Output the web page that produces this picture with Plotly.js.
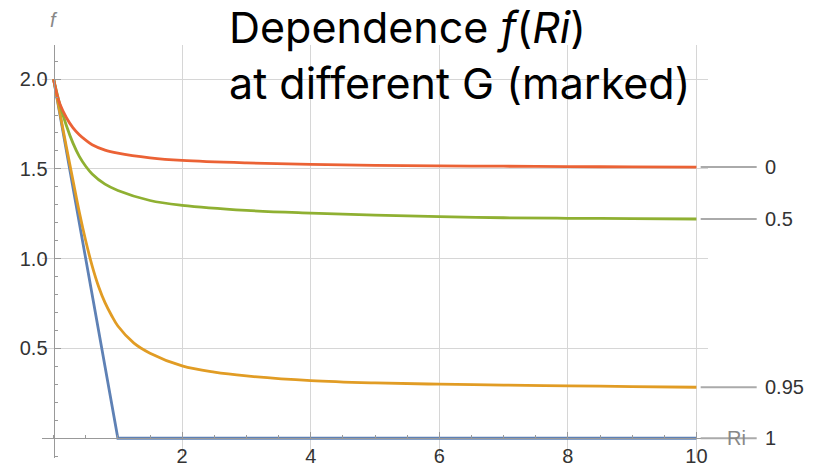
<!DOCTYPE html>
<html>
<head>
<meta charset="utf-8">
<script src="https://cdn.plot.ly/plotly-3.0.1.min.js"></script>
<style>html,body{margin:0;padding:0;background:#fff;}#chart{width:813px;height:468px;}</style>
</head>
<body>
<div id="chart"></div>
<script>
// G = 0 (red)
var ri_G0 = [0, 0.05, 0.1, 0.2, 0.3, 0.4, 0.5, 0.6, 0.8, 1.0, 1.5, 2, 3, 4, 5, 6, 7, 8, 9, 10];
var f_G0  = [2.0, 1.92, 1.86, 1.785, 1.73, 1.69, 1.66, 1.635, 1.605, 1.588, 1.562, 1.547, 1.533, 1.525, 1.52, 1.517, 1.515, 1.513, 1.511, 1.51];
// G = 0.5 (green)
var ri_G05 = [0, 0.05, 0.1, 0.2, 0.3, 0.4, 0.5, 0.6, 0.8, 1.0, 1.5, 2, 3, 4, 5, 6, 7, 8, 9, 10];
var f_G05  = [2.0, 1.925, 1.855, 1.74, 1.645, 1.57, 1.515, 1.472, 1.415, 1.38, 1.324, 1.297, 1.269, 1.254, 1.243, 1.234, 1.228, 1.225, 1.223, 1.221];
// G = 0.95 (orange)
var ri_G095 = [0, 0.1, 0.2, 0.3, 0.4, 0.5, 0.6, 0.7, 0.8, 0.9, 1.0, 1.25, 1.5, 2, 2.5, 3, 4, 5, 6, 7, 8, 9, 10];
var f_G095  = [2.0, 1.81, 1.62, 1.44, 1.26, 1.10, 0.96, 0.845, 0.755, 0.685, 0.625, 0.53, 0.474, 0.403, 0.368, 0.347, 0.321, 0.308, 0.301, 0.296, 0.292, 0.288, 0.284];
// G = 1 (blue)
var ri_G1 = [0, 1, 10];
var f_G1  = [2.0, 0, 0];

var G_labels = ['1', '0.95', '0.5', '0'];
var xTicks = [2, 4, 6, 8, 10];
var xTickText = ['2', '4', '6', '8', '10'];
var yTicks = [0.5, 1.0, 1.5, 2.0];
var yTickText = ['0.5', '1.0', '1.5', '2.0'];

var series = [
  {x: ri_G1, y: f_G1, color: '#5E81B5', shape: 'linear'},
  {x: ri_G095, y: f_G095, color: '#E19C24', shape: 'spline'},
  {x: ri_G05, y: f_G05, color: '#8FB032', shape: 'spline'},
  {x: ri_G0, y: f_G0, color: '#EB6235', shape: 'spline'}
];

var traces = series.map(function(s){
  return {x: s.x, y: s.y, type: 'scatter', mode: 'lines',
    line: {color: s.color, width: 2.8, shape: s.shape, smoothing: 1},
    hoverinfo: 'skip', showlegend: false};
});

var xr = [-0.18, 10.18], yr = [-0.11, 2.19];
var tickFont = {family: 'Liberation Sans, Arial, sans-serif', size: 20, color: '#333'};

var shapes = [], annotations = [];
series.forEach(function(s, i){
  var yEnd = s.y[s.y.length - 1];
  shapes.push({type: 'line', xref: 'paper', yref: 'y', x0: 0.989, x1: 1.0731, y0: yEnd, y1: yEnd,
    line: {color: '#aaa', width: 2}});
  annotations.push({xref: 'paper', yref: 'y', x: 1.0826, y: yEnd, xanchor: 'left', yanchor: 'middle',
    text: G_labels[i], showarrow: false, font: tickFont});
});
annotations.push({xref: 'paper', yref: 'y', x: 1.0435, y: 0, xanchor: 'center', yanchor: 'middle',
  text: 'Ri', showarrow: false, font: {family: 'Liberation Sans, Arial, sans-serif', size: 20, color: '#888'}});
annotations.push({xref: 'paper', yref: 'paper', x: 0.0173, y: 1.06, xanchor: 'center', yanchor: 'middle',
  text: '<i>f</i>', showarrow: false, font: {family: 'Liberation Sans, Arial, sans-serif', size: 20, color: '#888'}});
annotations.push({xref: 'paper', yref: 'paper', x: 0.2793, y: 1.109, xanchor: 'left', yanchor: 'top', align: 'left',
  text: 'Dependence <i>f</i>(<i>Ri</i>)<br>at different G (marked)', showarrow: false, borderpad: 0,
  font: {family: 'Inter, sans-serif', size: 43, color: '#000'}});

var layout = {
  width: 813, height: 468,
  margin: {l: 42, r: 105, t: 45, b: 10, pad: 0},
  paper_bgcolor: '#fff', plot_bgcolor: '#fff',
  showlegend: false,
  xaxis: {range: xr, anchor: 'free', position: (0 - yr[0]) / (yr[1] - yr[0]),
    showline: true, linecolor: '#999', linewidth: 1, zeroline: false,
    tickmode: 'array', tickvals: xTicks, ticktext: xTickText,
    ticks: 'inside', ticklen: 6, tickwidth: 1, tickcolor: '#999',
    showgrid: true, gridcolor: '#d6d6d6', gridwidth: 1,
    tickfont: tickFont, ticklabelstandoff: 0,
    minor: {tickmode: 'linear', tick0: 0, dtick: 0.5, ticks: 'inside', ticklen: 3.5, tickcolor: '#999', showgrid: false}},
  yaxis: {range: yr, anchor: 'free', position: (0 - xr[0]) / (xr[1] - xr[0]),
    showline: true, linecolor: '#999', linewidth: 1, zeroline: false,
    tickmode: 'array', tickvals: yTicks, ticktext: yTickText,
    ticks: 'inside', ticklen: 6, tickwidth: 1, tickcolor: '#999',
    showgrid: true, gridcolor: '#d6d6d6', gridwidth: 1,
    tickfont: tickFont, ticklabelstandoff: 2,
    minor: {tickmode: 'linear', tick0: 0, dtick: 0.1, ticks: 'inside', ticklen: 3.5, tickcolor: '#999', showgrid: false}},
  shapes: shapes,
  annotations: annotations
};

Plotly.newPlot('chart', traces, layout, {staticPlot: true, displayModeBar: false});
</script>
</body>
</html>
